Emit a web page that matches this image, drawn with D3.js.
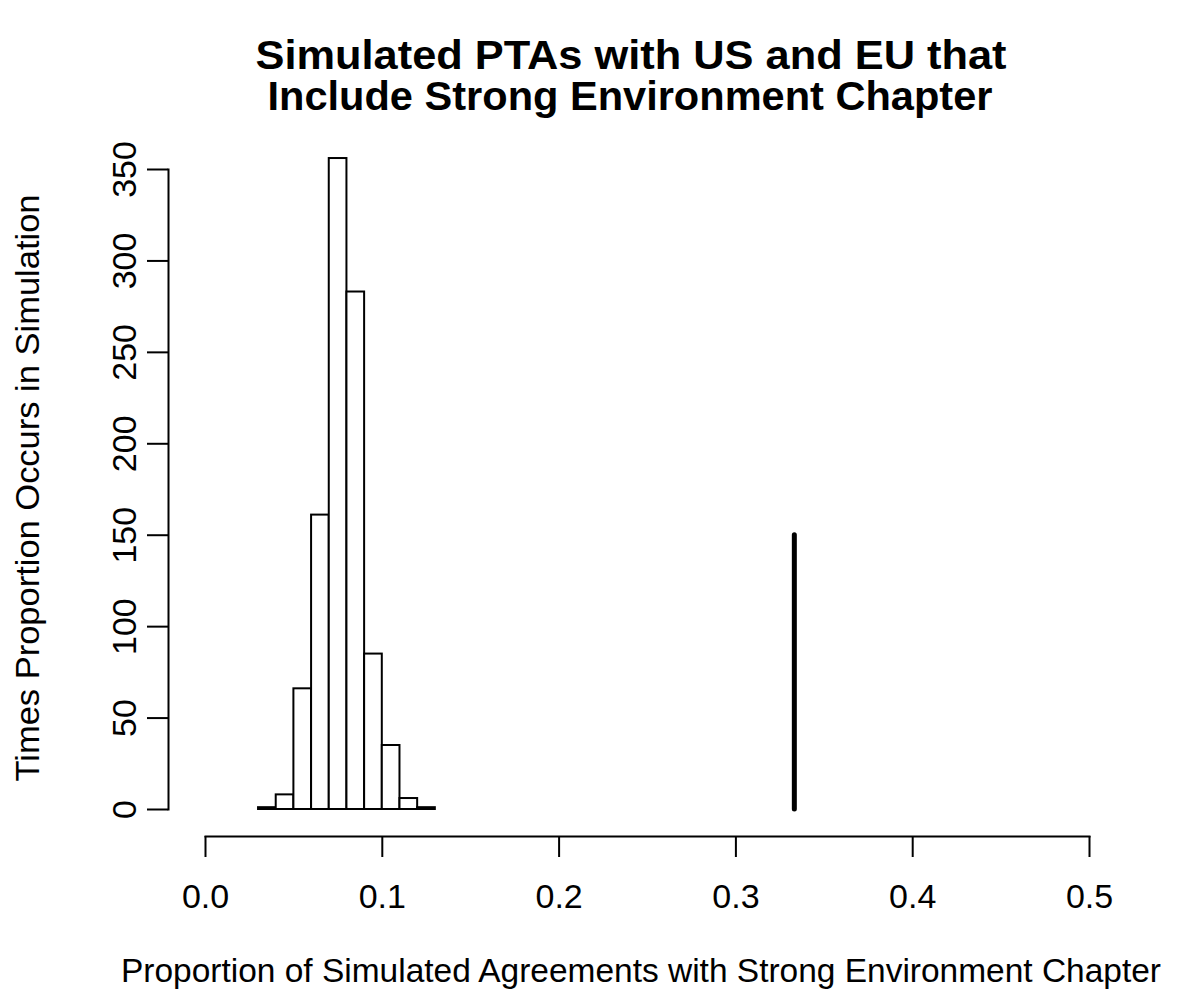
<!DOCTYPE html>
<html>
<head>
<meta charset="utf-8">
<script src="https://cdn.jsdelivr.net/npm/d3@7"></script>
<style>
  body { margin: 0; background: #fff; }
  text { font-family: "Liberation Sans", Arial, Helvetica, sans-serif; fill: #000; }
  .axis path, .axis line { stroke: #000; stroke-width: 2; }
  .axis text { font-size: 34px; }
</style>
</head>
<body>
<script>
// histogram bins (left edges) and counts
var binStarts = [0.03, 0.04, 0.05, 0.06, 0.07, 0.08, 0.09, 0.10, 0.11, 0.12];
var binWidth = 0.01;
var counts = [1, 8, 66, 161, 356, 283, 85, 35, 6, 1];
var xTicks = [0.0, 0.1, 0.2, 0.3, 0.4, 0.5];
var yTicks = [0, 50, 100, 150, 200, 250, 300, 350];
// observed proportion (vertical line) and its height
var observed = 1 / 3;
var observedHeight = 150;

var titleLines = ["Simulated PTAs with US and EU that", " Include Strong Environment Chapter"];
var xLabel = "Proportion of Simulated Agreements with Strong Environment Chapter";
var yLabel = "Times Proportion Occurs in Simulation";

var width = 1180, height = 998;

var svg = d3.select("body").append("svg")
    .attr("width", width).attr("height", height);

var x = d3.scaleLinear().domain([0, 0.5]).range([205, 1089]);
var y = d3.scaleLinear().domain([0, 350]).range([809, 169]);

// Title
svg.append("text").attr("x", 631).attr("y", 69)
    .attr("text-anchor", "middle").style("font-size", "40px").style("font-weight", "bold")
    .attr("textLength", 751).attr("lengthAdjust", "spacingAndGlyphs")
    .text(titleLines[0]);
svg.append("text").attr("x", 630).attr("y", 110)
    .attr("text-anchor", "middle").style("font-size", "40px").style("font-weight", "bold")
    .attr("textLength", 725).attr("lengthAdjust", "spacingAndGlyphs")
    .text(titleLines[1].trim());

// Bars
svg.selectAll(".bar").data(counts).enter().append("rect")
    .attr("class", "bar")
    .attr("x", function(d, i) { return x(binStarts[i]); })
    .attr("width", function(d, i) { return x(binStarts[i] + binWidth) - x(binStarts[i]); })
    .attr("y", function(d) { return y(d); })
    .attr("height", function(d) { return y(0) - y(d); })
    .attr("fill", "#fff").attr("stroke", "#000").attr("stroke-width", 2);

// Observed value line
svg.append("line")
    .attr("x1", x(observed)).attr("x2", x(observed))
    .attr("y1", y(0)).attr("y2", y(observedHeight))
    .attr("stroke", "#000").attr("stroke-width", 5).attr("stroke-linecap", "round");

// X axis
var xAxis = svg.append("g").attr("class", "axis")
    .attr("transform", "translate(0,836)")
    .call(d3.axisBottom(x).tickValues(xTicks).tickFormat(d3.format(".1f")).tickSize(21).tickSizeOuter(0));
xAxis.selectAll("text").attr("y", 0).attr("dy", null).attr("transform", "translate(0,72)");

// Y axis
var yAxis = svg.append("g").attr("class", "axis")
    .attr("transform", "translate(168,0)")
    .call(d3.axisLeft(y).tickValues(yTicks).tickSize(21).tickSizeOuter(0));
yAxis.selectAll("text")
    .attr("x", 0).attr("dy", null).attr("text-anchor", "middle")
    .attr("transform", "translate(-32,0) rotate(-90)");

svg.selectAll(".domain").attr("stroke-linecap", "square");

// Axis labels
svg.append("text").attr("x", 641).attr("y", 982)
    .attr("text-anchor", "middle").style("font-size", "34px")
    .attr("textLength", 1040).attr("lengthAdjust", "spacingAndGlyphs")
    .text(xLabel);
svg.append("text")
    .attr("transform", "translate(39,488) rotate(-90)")
    .attr("text-anchor", "middle").style("font-size", "34px")
    .attr("textLength", 587).attr("lengthAdjust", "spacingAndGlyphs")
    .text(yLabel);
</script>
</body>
</html>
